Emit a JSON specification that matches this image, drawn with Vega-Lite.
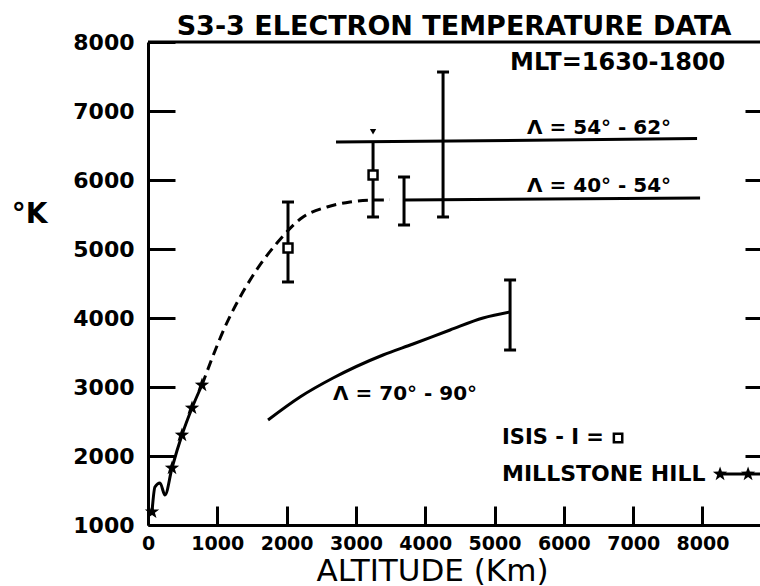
{
  "$schema": "https://vega.github.io/schema/vega-lite/v6.json",
  "width": 612,
  "height": 483,
  "autosize": {"type": "none"},
  "padding": {"left": 148, "top": 42, "right": 0, "bottom": 61},
  "background": "white",
  "config": {"view": {"stroke": null}, "font": "DejaVu Sans"},
  "title": {
    "text": "S3-3 ELECTRON TEMPERATURE DATA",
    "font": "DejaVu Sans",
    "fontSize": 27,
    "fontWeight": "bold",
    "anchor": "middle",
    "frame": "group",
    "baseline": "alphabetic",
    "offset": 5,
    "dy": 36,
    "color": "black"
  },
  "datasets": {
    "millstone": [
      {"alt": 58, "T": 1190, "kind": "star"},
      {"alt": 100, "T": 1550, "kind": "line"},
      {"alt": 173, "T": 1609, "kind": "line"},
      {"alt": 245, "T": 1435, "kind": "line"},
      {"alt": 346, "T": 1826, "kind": "star"},
      {"alt": 490, "T": 2304, "kind": "star"},
      {"alt": 635, "T": 2696, "kind": "star"},
      {"alt": 779, "T": 3029, "kind": "star"}
    ],
    "dashed": [
      {"alt": 779, "T": 3029},
      {"alt": 1111, "T": 3870},
      {"alt": 1500, "T": 4594},
      {"alt": 1861, "T": 5087},
      {"alt": 2237, "T": 5464},
      {"alt": 2583, "T": 5609},
      {"alt": 2915, "T": 5681},
      {"alt": 3304, "T": 5710},
      {"alt": 3492, "T": 5712}
    ],
    "polar": [
      {"alt": 1732, "T": 2522},
      {"alt": 2193, "T": 2855},
      {"alt": 2670, "T": 3130},
      {"alt": 3391, "T": 3464},
      {"alt": 3824, "T": 3623},
      {"alt": 4358, "T": 3826},
      {"alt": 4834, "T": 4000},
      {"alt": 5224, "T": 4087}
    ],
    "bands": [
      {"band": "54-62", "alt": 2713, "T": 6550},
      {"band": "54-62", "alt": 7922, "T": 6600},
      {"band": "40-54", "alt": 3694, "T": 5710},
      {"band": "40-54", "alt": 7965, "T": 5740}
    ],
    "topline": [
      {"alt": 0, "T": 8000},
      {"alt": 8830, "T": 8000}
    ],
    "errbars": [
      {"alt": 2020, "lo": 4522, "hi": 5681},
      {"alt": 3247, "lo": 5464, "hi": 6560},
      {"alt": 3694, "lo": 5348, "hi": 6043},
      {"alt": 4257, "lo": 5464, "hi": 7565},
      {"alt": 5224, "lo": 3536, "hi": 4551}
    ],
    "caps": [
      {"alt": 2020, "T": 4522},
      {"alt": 2020, "T": 5681},
      {"alt": 3247, "T": 5464},
      {"alt": 3694, "T": 5348},
      {"alt": 3694, "T": 6043},
      {"alt": 4257, "T": 5464},
      {"alt": 4257, "T": 7565},
      {"alt": 5224, "T": 3536},
      {"alt": 5224, "T": 4551}
    ],
    "isis": [
      {"alt": 2020, "T": 5014},
      {"alt": 3247, "T": 6072}
    ],
    "arrowhead": [
      {"alt": 3247, "T": 6700}
    ],
    "mlt": [
      {"alt": 5224, "T": 7696, "label": "MLT=1630-1800"}
    ],
    "lambda": [
      {"alt": 5469, "T": 6754, "label": "Λ = 54° - 62°"},
      {"alt": 5469, "T": 5913, "label": "Λ = 40° - 54°"},
      {"alt": 2670, "T": 2899, "label": "Λ = 70° - 90°"}
    ],
    "isisText": [
      {"alt": 5108, "T": 2261, "label": "ISIS - I ="}
    ],
    "msText": [
      {"alt": 5108, "T": 1739, "label": "MILLSTONE HILL"}
    ],
    "legendSquare": [
      {"alt": 6782, "T": 2261}
    ],
    "legendStars": [
      {"alt": 8254, "T": 1739},
      {"alt": 8658, "T": 1739}
    ],
    "legendLine": [
      {"alt": 8254, "T": 1739},
      {"alt": 8830, "T": 1739}
    ]
  },
  "encoding": {
    "x": {
      "field": "alt", "type": "quantitative",
      "scale": {"domain": [0, 8830], "nice": false, "zero": false},
      "axis": {
        "orient": "bottom",
        "values": [0, 1000, 2000, 3000, 4000, 5000, 6000, 7000, 8000],
        "format": "d",
        "tickSize": -19, "tickWidth": 3, "tickColor": "black",
        "domainWidth": 3, "domainColor": "black",
        "labelFont": "DejaVu Sans", "labelFontWeight": "bold", "labelFontSize": 19,
        "labelColor": "black", "labelPadding": 28, "labelFlush": false, "labelOverlap": false,
        "grid": false,
        "title": "ALTITUDE (Km)",
        "titleFont": "DejaVu Sans", "titleFontSize": 31, "titleFontWeight": "normal",
        "titleColor": "black", "titleX": 284, "titleY": 55,
        "titleAlign": "center", "titleBaseline": "alphabetic"
      }
    },
    "y": {
      "field": "T", "type": "quantitative",
      "scale": {"domain": [1000, 8000], "nice": false, "zero": false},
      "axis": null
    }
  },
  "layer": [
    {
      "data": {"name": "millstone"},
      "mark": {"type": "line", "interpolate": "monotone", "strokeWidth": 3, "color": "black"},
      "encoding": {
        "y": {
          "field": "T", "type": "quantitative",
          "scale": {"domain": [1000, 8000], "nice": false, "zero": false},
          "axis": {
            "orient": "left",
            "values": [1000, 2000, 3000, 4000, 5000, 6000, 7000, 8000],
            "format": "d",
            "tickSize": -27, "tickWidth": 3, "tickColor": "black",
            "domainWidth": 3, "domainColor": "black",
            "labelFont": "DejaVu Sans", "labelFontWeight": "bold", "labelFontSize": 22,
            "labelColor": "black", "labelPadding": 41, "labelFlush": false, "labelOverlap": false,
            "grid": false,
            "title": "°K", "titleAngle": 0,
            "titleFont": "DejaVu Sans", "titleFontWeight": "bold", "titleFontSize": 28,
            "titleColor": "black", "titleX": -119, "titleY": 172,
            "titleAlign": "center", "titleBaseline": "middle"
          }
        }
      }
    },
    {
      "data": {"name": "bands"},
      "mark": {"type": "line", "strokeWidth": 3, "color": "black"},
      "encoding": {
        "y": {
          "field": "T", "type": "quantitative",
          "scale": {"domain": [1000, 8000], "nice": false, "zero": false},
          "axis": {
            "orient": "right",
            "values": [2000, 3000, 4000, 5000, 6000, 7000],
            "tickSize": -15, "tickWidth": 3, "tickColor": "black",
            "domain": false, "labels": false, "grid": false, "title": null
          }
        },
        "detail": {"field": "band", "type": "nominal"}
      }
    },
    {
      "data": {"name": "topline"},
      "mark": {"type": "line", "strokeWidth": 3, "color": "black"}
    },
    {
      "data": {"name": "millstone"},
      "transform": [{"filter": "datum.kind === 'star'"}],
      "mark": {"type": "point", "filled": true, "color": "black", "size": 230, "opacity": 1,
        "shape": "M0,-1L0.235,-0.324L0.951,-0.309L0.38,0.124L0.588,0.809L0,0.4L-0.588,0.809L-0.38,0.124L-0.951,-0.309L-0.235,-0.324Z"}
    },
    {
      "data": {"name": "dashed"},
      "mark": {"type": "line", "interpolate": "monotone", "strokeWidth": 3, "strokeDash": [10, 6], "color": "black"}
    },
    {
      "data": {"name": "polar"},
      "mark": {"type": "line", "interpolate": "monotone", "strokeWidth": 3, "color": "black"}
    },
    {
      "data": {"name": "errbars"},
      "mark": {"type": "rule", "strokeWidth": 3, "color": "black"},
      "encoding": {
        "y": {"field": "lo", "type": "quantitative", "scale": {"domain": [1000, 8000], "nice": false, "zero": false}, "axis": null},
        "y2": {"field": "hi"}
      }
    },
    {
      "data": {"name": "caps"},
      "mark": {"type": "tick", "orient": "horizontal", "size": 12, "thickness": 3, "color": "black", "opacity": 1}
    },
    {
      "data": {"name": "isis"},
      "mark": {"type": "point", "shape": "square", "size": 80, "filled": true, "fill": "white", "stroke": "black", "strokeWidth": 2.5, "opacity": 1}
    },
    {
      "data": {"name": "arrowhead"},
      "mark": {"type": "point", "shape": "triangle-down", "size": 40, "filled": true, "color": "black", "opacity": 1}
    },
    {
      "data": {"name": "mlt"},
      "mark": {"type": "text", "align": "left", "baseline": "middle", "font": "DejaVu Sans", "fontWeight": "bold", "fontSize": 24, "color": "black"},
      "encoding": {"text": {"field": "label"}}
    },
    {
      "data": {"name": "lambda"},
      "mark": {"type": "text", "align": "left", "baseline": "middle", "font": "DejaVu Sans", "fontWeight": "bold", "fontSize": 20, "color": "black"},
      "encoding": {"text": {"field": "label"}}
    },
    {
      "data": {"name": "isisText"},
      "mark": {"type": "text", "align": "left", "baseline": "middle", "font": "DejaVu Sans", "fontWeight": "bold", "fontSize": 21, "color": "black"},
      "encoding": {"text": {"field": "label"}}
    },
    {
      "data": {"name": "msText"},
      "mark": {"type": "text", "align": "left", "baseline": "middle", "font": "DejaVu Sans", "fontWeight": "bold", "fontSize": 22, "color": "black"},
      "encoding": {"text": {"field": "label"}}
    },
    {
      "data": {"name": "legendSquare"},
      "mark": {"type": "point", "shape": "square", "size": 70, "filled": true, "fill": "white", "stroke": "black", "strokeWidth": 2.5, "opacity": 1}
    },
    {
      "data": {"name": "legendLine"},
      "mark": {"type": "line", "strokeWidth": 3, "color": "black"}
    },
    {
      "data": {"name": "legendStars"},
      "mark": {"type": "point", "filled": true, "color": "black", "size": 230, "opacity": 1,
        "shape": "M0,-1L0.235,-0.324L0.951,-0.309L0.38,0.124L0.588,0.809L0,0.4L-0.588,0.809L-0.38,0.124L-0.951,-0.309L-0.235,-0.324Z"}
    }
  ],
  "resolve": {"axis": {"y": "independent"}}
}
